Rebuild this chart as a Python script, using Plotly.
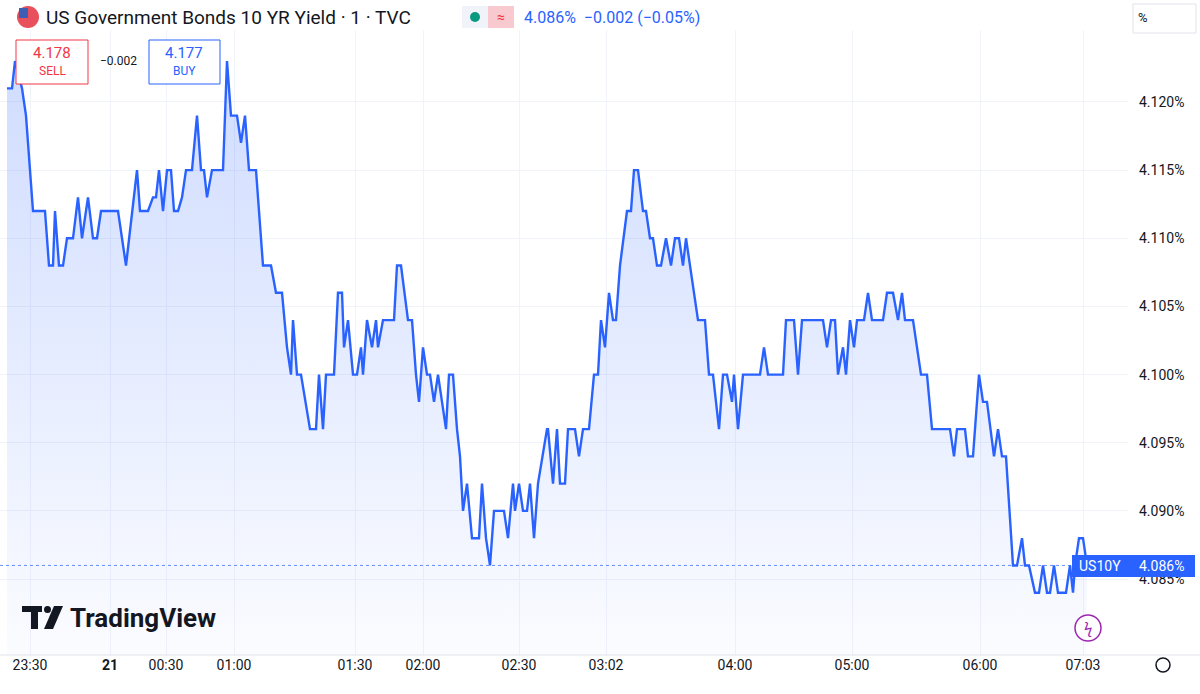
import plotly.graph_objects as go

# bar position (chart units) and yield values of each vertex of the 1-minute line
bars = [7, 12, 15, 22, 26, 33, 45, 49, 53, 55, 59, 63, 67, 73, 78, 82, 88, 93, 97, 101,
        118, 126, 137, 140, 148, 153, 156, 159, 163, 167, 171, 174, 178, 182, 186, 192, 197, 201, 204, 207,
        212, 223, 227, 229, 231, 237, 241, 245, 249, 256, 263, 271, 276, 282, 287, 291, 293, 297, 301, 310,
        316, 319, 323, 326, 334, 338, 342, 344, 348, 353, 357, 361, 363, 367, 372, 376, 378, 383, 394, 397,
        401, 408, 412, 416, 419, 423, 427, 430, 434, 438, 446, 449, 453, 457, 460, 463, 467, 472, 479, 482,
        486, 490, 494, 504, 508, 513, 515, 519, 523, 527, 530, 534, 538, 547, 548, 553, 557, 560, 565, 568,
        575, 579, 583, 589, 594, 598, 601, 605, 609, 613, 616, 620, 627, 631, 634, 638, 643, 646, 650, 653,
        657, 661, 666, 671, 675, 679, 683, 686, 698, 705, 709, 713, 719, 723, 727, 732, 734, 738, 743, 760,
        764, 768, 783, 786, 794, 798, 802, 823, 827, 831, 835, 838, 843, 846, 850, 854, 857, 864, 868, 872,
        883, 887, 893, 898, 902, 905, 913, 921, 927, 932, 950, 954, 957, 965, 968, 973, 979, 983, 987, 994,
        998, 1002, 1006, 1013, 1017, 1022, 1025, 1029, 1035, 1039, 1043, 1047, 1050, 1054, 1058, 1066, 1070, 1073, 1075, 1079,
        1083, 1087]
yields = [4.121, 4.121, 4.123, 4.121, 4.119, 4.112, 4.112, 4.108, 4.108, 4.112, 4.108, 4.108, 4.110, 4.110, 4.113, 4.110, 4.113, 4.110, 4.110, 4.112,
          4.112, 4.108, 4.115, 4.112, 4.112, 4.113, 4.113, 4.115, 4.112, 4.115, 4.115, 4.112, 4.112, 4.113, 4.115, 4.115, 4.119, 4.115, 4.115, 4.113,
          4.115, 4.115, 4.123, 4.121, 4.119, 4.119, 4.117, 4.119, 4.115, 4.115, 4.108, 4.108, 4.106, 4.106, 4.102, 4.100, 4.104, 4.100, 4.100, 4.096,
          4.096, 4.100, 4.096, 4.100, 4.100, 4.106, 4.106, 4.102, 4.104, 4.100, 4.100, 4.102, 4.100, 4.104, 4.102, 4.104, 4.102, 4.104, 4.104, 4.108,
          4.108, 4.104, 4.104, 4.100, 4.098, 4.102, 4.100, 4.100, 4.098, 4.100, 4.096, 4.100, 4.100, 4.096, 4.094, 4.090, 4.092, 4.088, 4.088, 4.092,
          4.088, 4.086, 4.090, 4.090, 4.088, 4.092, 4.090, 4.092, 4.090, 4.090, 4.092, 4.088, 4.092, 4.096, 4.096, 4.092, 4.096, 4.092, 4.092, 4.096,
          4.096, 4.094, 4.096, 4.096, 4.100, 4.100, 4.104, 4.102, 4.106, 4.104, 4.104, 4.108, 4.112, 4.112, 4.115, 4.115, 4.112, 4.112, 4.110, 4.110,
          4.108, 4.108, 4.110, 4.108, 4.110, 4.110, 4.108, 4.110, 4.104, 4.104, 4.100, 4.100, 4.096, 4.100, 4.100, 4.098, 4.100, 4.096, 4.100, 4.100,
          4.102, 4.100, 4.100, 4.104, 4.104, 4.100, 4.104, 4.104, 4.102, 4.104, 4.104, 4.100, 4.102, 4.100, 4.104, 4.102, 4.104, 4.104, 4.106, 4.104,
          4.104, 4.106, 4.106, 4.104, 4.106, 4.104, 4.104, 4.100, 4.100, 4.096, 4.096, 4.094, 4.096, 4.096, 4.094, 4.094, 4.100, 4.098, 4.098, 4.094,
          4.096, 4.094, 4.094, 4.086, 4.086, 4.088, 4.086, 4.086, 4.084, 4.084, 4.086, 4.084, 4.084, 4.086, 4.084, 4.084, 4.086, 4.084, 4.086, 4.088,
          4.088, 4.086]

tick_bars = [30, 110, 166, 234, 355, 423, 519, 606, 735, 852, 980, 1083]
tick_text = ["23:30", "<b>21</b>", "00:30", "01:00", "01:30", "02:00", "02:30", "03:02", "04:00", "05:00", "06:00", "07:03"]
price_ticks = [4.085, 4.090, 4.095, 4.100, 4.105, 4.110, 4.115, 4.120]
last_price = 4.086
y_lo, y_hi = 4.07943, 4.12528

BLUE = "#2962FF"
RED = "#F23645"
TXT = "#131722"
FONT = "Roboto, Noto Sans, sans-serif"

# pixel -> paper helpers (plot area is x 0..1128, y 30..655)
def px(x):
    return x / 1128

def py(y):
    return (655 - y) / 625

fig = go.Figure()

fig.add_trace(go.Scatter(x=[bars[0], bars[-1]], y=[y_lo, y_lo], mode="lines",
                         line=dict(width=0), hoverinfo="skip", showlegend=False))
fig.add_trace(go.Scatter(
    x=bars, y=yields, mode="lines", fill="tonexty",
    fillgradient=dict(type="vertical",
                      colorscale=[[0, "rgba(41,98,255,0.02)"], [1, "rgba(41,98,255,0.22)"]]),
    line=dict(color=BLUE, width=2.4), showlegend=False,
))

fig.add_hline(y=last_price, line=dict(color="rgba(41,98,255,0.7)", width=1, dash="dot"))

shapes = [
    dict(type="line", xref="paper", yref="paper", x0=px(1128), x1=px(1128), y0=py(0), y1=py(694),
         line=dict(color="#E0E3EB", width=1)),
    dict(type="line", xref="paper", yref="paper", x0=px(0), x1=px(1200), y0=py(655), y1=py(655),
         line=dict(color="#E0E3EB", width=1)),
    # sell / buy boxes
    dict(type="rect", xref="paper", yref="paper", x0=px(16), x1=px(88), y0=py(84), y1=py(40),
         line=dict(color=RED, width=1), fillcolor="white"),
    dict(type="rect", xref="paper", yref="paper", x0=px(149), x1=px(220), y0=py(84), y1=py(40),
         line=dict(color=BLUE, width=1), fillcolor="white"),
    # flag
    dict(type="circle", xref="paper", yref="paper", x0=px(17), x1=px(39), y0=py(28), y1=py(6),
         line=dict(width=0), fillcolor="#E8505B"),
    dict(type="rect", xref="paper", yref="paper", x0=px(19), x1=px(28), y0=py(18), y1=py(8),
         line=dict(width=0), fillcolor="#3C5FB5"),
    # status pill
    dict(type="rect", xref="paper", yref="paper", x0=px(462), x1=px(514), y0=py(28), y1=py(6),
         line=dict(width=0), fillcolor="#F0F3FA"),
    dict(type="rect", xref="paper", yref="paper", x0=px(488), x1=px(514), y0=py(28), y1=py(6),
         line=dict(width=0), fillcolor="#F8C9CE"),
    dict(type="circle", xref="paper", yref="paper", x0=px(470), x1=px(480), y0=py(22), y1=py(12),
         line=dict(width=0), fillcolor="#089981"),
    # % box
    dict(type="rect", xref="paper", yref="paper", x0=px(1133), x1=px(1196), y0=py(33), y1=py(4),
         line=dict(color="#E0E3EB", width=1), fillcolor="white"),
    # last-price label
    dict(type="rect", xref="paper", yref="paper", x0=px(1072), x1=px(1195), y0=py(577), y1=py(555),
         line=dict(width=0), fillcolor=BLUE),
    # TradingView logo
    dict(type="rect", xref="paper", yref="paper", x0=px(22), x1=px(42), y0=py(612), y1=py(606),
         line=dict(width=0), fillcolor=TXT),
    dict(type="rect", xref="paper", yref="paper", x0=px(31), x1=px(38), y0=py(629), y1=py(606),
         line=dict(width=0), fillcolor=TXT),
    dict(type="circle", xref="paper", yref="paper", x0=px(44), x1=px(51), y0=py(613), y1=py(606),
         line=dict(width=0), fillcolor=TXT),
    dict(type="path", xref="paper", yref="paper",
         path=f"M {px(54)} {py(606)} L {px(63)} {py(606)} L {px(53)} {py(629)} L {px(44)} {py(629)} Z",
         line=dict(width=0), fillcolor=TXT),
    # lightning icon
    dict(type="circle", xref="paper", yref="paper", x0=px(1075), x1=px(1101), y0=py(641), y1=py(615),
         line=dict(color="#9C27B0", width=1.5), fillcolor="white"),
    dict(type="circle", xref="paper", yref="paper", x0=px(1156), x1=px(1170), y0=py(672), y1=py(658),
         line=dict(color=TXT, width=1.5)),
]

def ann(x, y, text, size=13, color=TXT, xanchor="left", **kw):
    return dict(xref="paper", yref="paper", x=px(x), y=py(y), text=text, showarrow=False,
                xanchor=xanchor, yanchor="middle", font=dict(size=size, color=color, family=FONT), **kw)

annotations = [
    ann(44, 17, "US Government Bonds 10 YR Yield · 1 · TVC", size=19),
    ann(501, 17, "≈", size=14, color=RED, xanchor="center"),
    ann(522, 17, "4.086%  −0.002 (−0.05%)", size=16, color=BLUE),
    ann(52, 53, "4.178", size=15, color=RED, xanchor="center"),
    ann(52, 71, "SELL", size=12, color=RED, xanchor="center"),
    ann(118, 61, "−0.002", size=12, xanchor="center"),
    ann(184, 53, "4.177", size=15, color=BLUE, xanchor="center"),
    ann(184, 71, "BUY", size=12, color=BLUE, xanchor="center"),
    ann(1136, 18, "%", size=13),
    ann(1100, 566, "US10Y", size=14, color="white", xanchor="center"),
    ann(1161, 566, "4.086%", size=14, color="white", xanchor="center"),
    ann(68, 618, "<b>TradingView</b>", size=26),
    ann(1088, 628, "ϟ", size=15, color="#9C27B0", xanchor="center"),
]

fig.update_layout(
    width=1200, height=694,
    margin=dict(l=0, r=72, t=30, b=39, autoexpand=False),
    paper_bgcolor="white", plot_bgcolor="white",
    font=dict(family=FONT, color=TXT, size=13),
    shapes=shapes, annotations=annotations,
    showlegend=False,
)
fig.update_xaxes(range=[0, 1128], tickvals=tick_bars, ticktext=tick_text, automargin=False,
                 showgrid=True, gridcolor="#F0F3FA", zeroline=False, ticks="", ticklen=0,
                 tickfont=dict(size=14, color=TXT))
fig.update_yaxes(range=[y_lo, y_hi], side="right", tickvals=price_ticks, automargin=False,
                 ticktext=[f"{v:.3f}%" for v in price_ticks], ticklabelstandoff=10,
                 showgrid=True, gridcolor="#F0F3FA", zeroline=False, ticks="",
                 tickfont=dict(size=14, color=TXT))

fig.write_html("out.html", config={"displayModeBar": False},
               post_script="document.body.style.margin='0';")
